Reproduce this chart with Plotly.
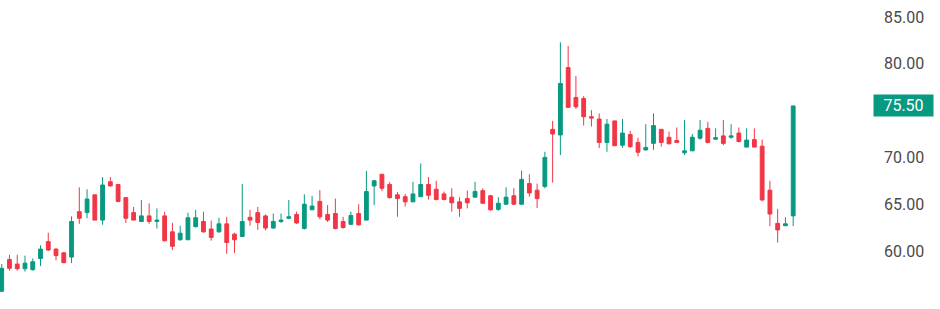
import plotly.graph_objects as go

# OHLC values (103 sessions)
open_ = [55.7, 59.1, 58.6, 58.1, 58.0, 59.2, 61.0, 60.2, 59.8, 59.35,
         64.2, 64.1, 66.0, 63.3, 67.4, 67.1, 65.7, 64.1, 63.15, 63.75,
         63.15, 63.75, 62.05, 61.2, 61.2, 62.6, 63.15, 62.35, 62.05, 62.9,
         61.8, 61.55, 63.6, 64.1, 63.75, 62.45, 63.15, 63.5, 63.9, 62.4,
         64.4, 65.3, 63.9, 64.0, 63.15, 62.85, 64.0, 63.3, 66.95, 68.2,
         67.1, 66.0, 65.8, 65.25, 65.8, 67.1, 66.6, 66.1, 65.75, 65.25,
         65.6, 65.75, 66.45, 65.9, 64.45, 65.0, 65.9, 65.0, 67.2, 66.5,
         66.9, 73.0, 72.4, 79.6, 76.4, 76.3, 74.35, 74.1, 71.6, 73.9,
         71.3, 72.45, 71.6, 70.8, 71.5, 73.0, 72.15, 71.8, 70.5, 70.7,
         72.05, 73.1, 71.95, 72.3, 72.15, 72.6, 71.1, 71.9, 71.2, 66.5,
         62.95, 62.7, 63.75]
high = [58.6, 59.6, 59.6, 59.5, 59.2, 60.6, 61.95, 60.3, 59.9, 63.7,
        66.8, 66.6, 66.0, 67.9, 67.9, 67.15, 65.7, 64.7, 65.45, 65.1,
        64.55, 64.2, 63.0, 62.7, 64.1, 64.4, 64.2, 63.25, 63.55, 63.65,
        61.95, 67.15, 64.4, 64.7, 63.9, 64.0, 64.0, 65.45, 64.2, 66.05,
        65.9, 66.5, 64.9, 65.6, 63.65, 64.2, 65.0, 68.55, 67.6, 68.2,
        67.35, 66.3, 66.1, 67.4, 69.35, 67.9, 67.5, 66.35, 66.7, 65.75,
        66.45, 67.4, 66.7, 66.0, 65.75, 66.8, 66.7, 68.6, 68.2, 67.2,
        70.6, 73.9, 82.3, 81.9, 78.7, 76.55, 75.05, 74.7, 74.1, 73.9,
        74.1, 72.85, 72.1, 73.55, 74.7, 73.0, 72.75, 73.2, 74.0, 72.5,
        74.0, 73.8, 73.1, 74.0, 73.55, 73.2, 73.1, 73.1, 71.9, 67.5,
        64.5, 63.6, 75.5]
low = [55.6, 57.9, 57.9, 57.8, 57.9, 58.4, 60.0, 59.0, 58.7, 58.7,
       62.9, 63.5, 63.3, 62.8, 66.9, 65.2, 63.0, 63.3, 63.15, 62.9,
       62.4, 61.0, 60.1, 61.1, 61.2, 62.5, 61.95, 61.1, 61.95, 59.7,
       59.8, 61.5, 62.7, 62.25, 62.2, 62.4, 63.0, 63.4, 62.9, 62.3,
       64.4, 63.4, 63.1, 62.3, 62.4, 62.8, 62.7, 63.3, 64.9, 66.4,
       65.6, 63.65, 64.75, 65.25, 65.8, 65.5, 65.4, 65.4, 64.2, 63.65,
       64.55, 65.7, 65.0, 64.3, 64.3, 64.95, 64.9, 64.95, 65.8, 64.6,
       66.7, 67.3, 70.25, 75.3, 75.2, 73.4, 73.3, 71.0, 70.6, 71.2,
       71.0, 71.0, 70.1, 70.75, 70.8, 71.15, 71.4, 71.55, 70.25, 70.7,
       71.9, 71.5, 71.9, 71.3, 72.0, 71.6, 71.1, 71.1, 65.3, 62.65,
       60.9, 62.7, 62.65]
close = [58.15, 58.15, 58.1, 58.7, 58.85, 60.2, 60.1, 59.5, 58.75, 63.15,
         63.5, 65.55, 63.3, 67.05, 66.95, 65.3, 63.5, 63.3, 63.75, 63.15,
         63.3, 61.1, 60.5, 61.9, 63.55, 63.55, 62.05, 61.45, 62.9, 60.9,
         61.2, 63.15, 63.3, 63.05, 62.45, 63.15, 63.3, 63.65, 63.0, 65.0,
         64.8, 63.65, 63.3, 62.4, 62.5, 63.8, 62.8, 66.35, 67.5, 66.7,
         65.7, 65.6, 65.25, 66.1, 67.1, 65.95, 65.5, 65.5, 65.15, 64.55,
         65.15, 66.35, 65.1, 64.4, 65.1, 65.75, 65.0, 67.65, 66.2, 65.6,
         70.0, 72.5, 77.9, 75.35, 75.4, 74.35, 74.2, 71.6, 73.55, 71.25,
         72.6, 71.15, 70.55, 71.05, 73.4, 71.6, 71.45, 71.6, 70.7, 72.15,
         72.9, 71.6, 72.1, 71.5, 72.3, 71.7, 71.85, 71.1, 65.45, 63.95,
         62.25, 62.9, 75.5]

tick_values = [60, 65, 70, 80, 85]
last_price_label = "75.50"

GREEN = "#089981"
RED = "#F23645"

x = list(range(len(close)))

fig = go.Figure(go.Candlestick(
    x=x, open=open_, high=high, low=low, close=close,
    increasing=dict(line=dict(color=GREEN, width=1), fillcolor=GREEN),
    decreasing=dict(line=dict(color=RED, width=1), fillcolor=RED),
    whiskerwidth=0,
    showlegend=False,
))

fig.add_annotation(
    x=1, xref="paper", y=close[-1], yref="y",
    text=last_price_label, showarrow=False,
    xanchor="left", yanchor="middle", xshift=3,
    bgcolor=GREEN, font=dict(color="white", size=16, family="Roboto"),
    width=57, height=19, borderpad=1, align="center",
)

fig.update_layout(
    width=940, height=309,
    margin=dict(l=0, r=70, t=0, b=0),
    paper_bgcolor="white", plot_bgcolor="white",
    boxgap=0.3,
    xaxis=dict(visible=False, range=[-0.22, 111.9], rangeslider=dict(visible=False)),
    yaxis=dict(
        side="right", range=[53.80, 86.82],
        tickvals=tick_values, tickformat=".2f",
        showgrid=False, zeroline=False, showline=False, ticks="",
        ticklabelstandoff=13,
        tickfont=dict(size=16, color="#4a4a4a", family="Roboto"),
    ),
)

fig.write_html("out.html")
